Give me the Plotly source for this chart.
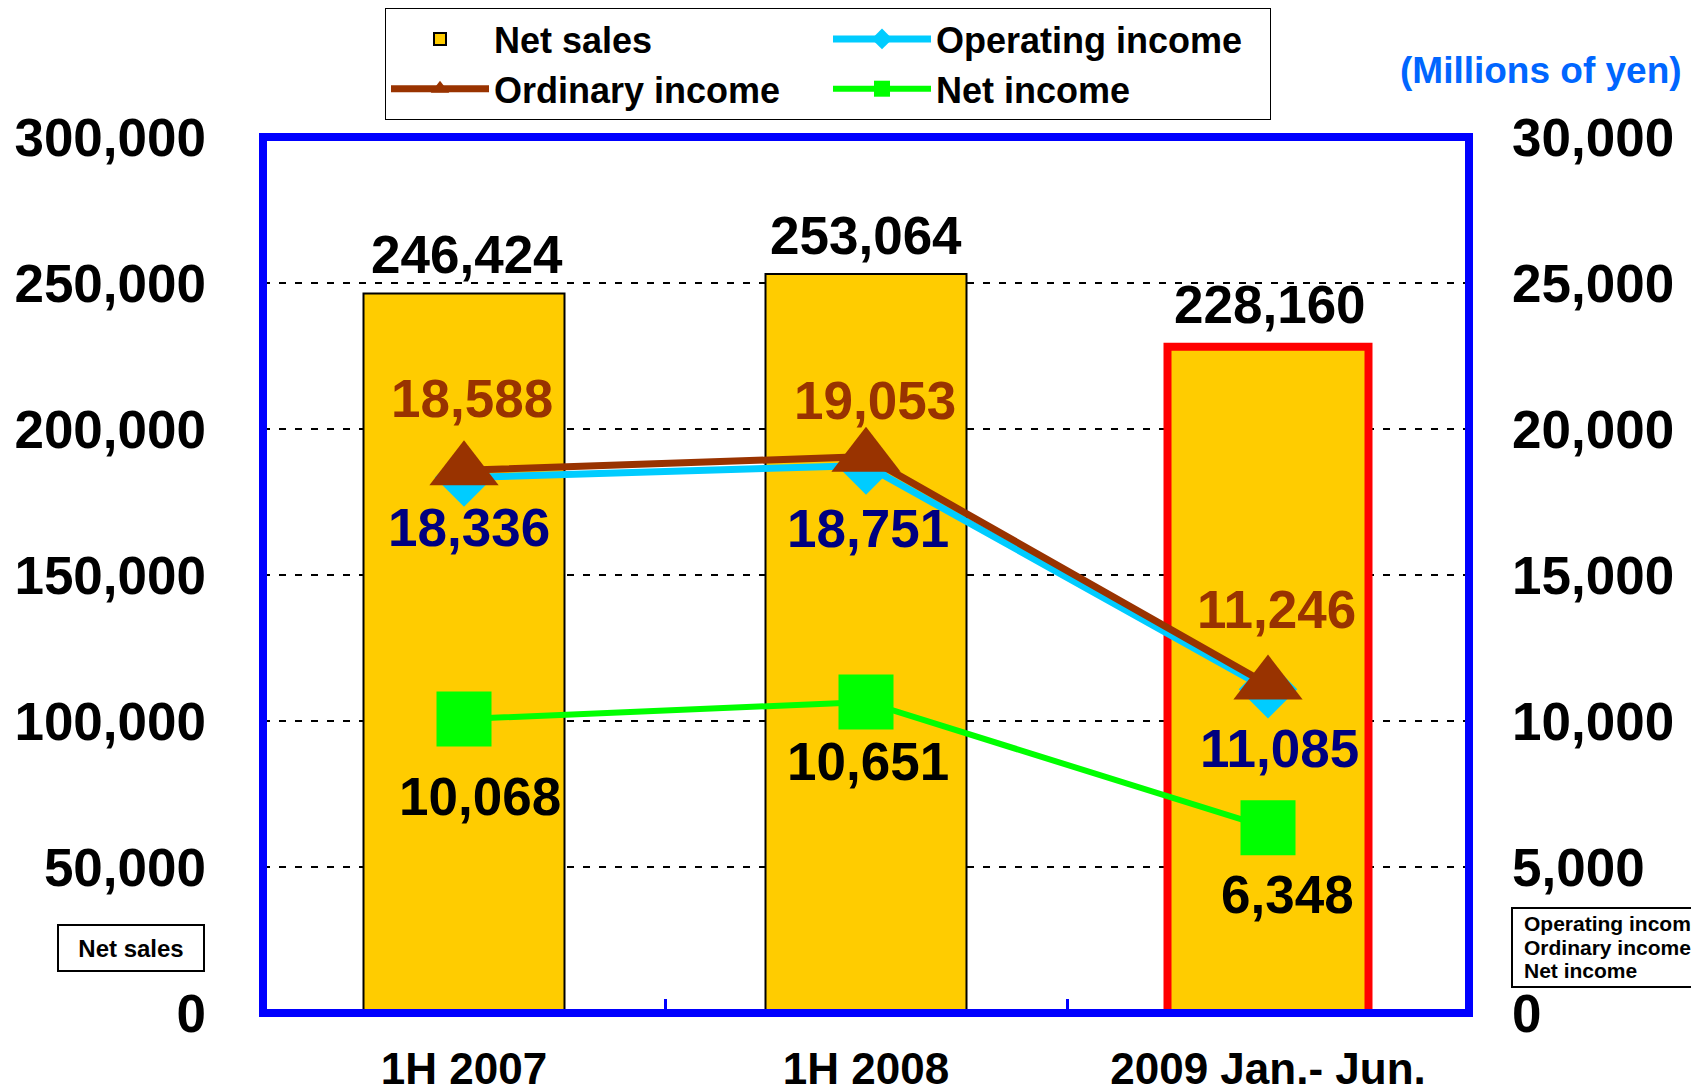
import plotly.graph_objects as go

categories = ["1H 2007", "1H 2008", "2009 Jan.- Jun."]
net_sales = [246424, 253064, 228160]
operating_income = [18336, 18751, 11085]
ordinary_income = [18588, 19053, 11246]
net_income = [10068, 10651, 6348]

left_ticks = [0, 50000, 100000, 150000, 200000, 250000, 300000]
right_ticks = [0, 5000, 10000, 15000, 20000, 25000, 30000]

FONT = "Liberation Sans, Arial, sans-serif"

# label offsets (pixels)
sales_dx, sales_dy = [3, 0, 2], [39, 39, 42]
ord_dx, ord_dy = [8, 9, 8], [72, 56, 75]
op_dx, op_dy = [5, 2, 11], [-50, -63, -59]
net_dx, net_dy = [16, 2, 19], [-77, -60, -67]

fig = go.Figure()
fig.add_trace(go.Bar(
    x=categories, y=net_sales, name="Net sales", width=0.5,
    marker=dict(color="#FFCC00", line=dict(color=["black", "black", "#FF0000"], width=[2, 2, 8])),
    yaxis="y",
))
fig.add_trace(go.Scatter(
    x=categories, y=operating_income, name="Operating income", mode="lines+markers",
    line=dict(color="#00CCFF", width=7),
    marker=dict(symbol="diamond", size=45, color="#00CCFF"),
    yaxis="y2",
))
fig.add_trace(go.Scatter(
    x=categories, y=ordinary_income, name="Ordinary income", mode="lines+markers",
    line=dict(color="#993300", width=7),
    marker=dict(symbol="triangle-up", size=60, color="#993300"),
    yaxis="y2",
))
fig.add_trace(go.Scatter(
    x=categories, y=net_income, name="Net income", mode="lines+markers",
    line=dict(color="#00FF00", width=6),
    marker=dict(symbol="square", size=55, color="#00FF00"),
    yaxis="y2",
))

ann = []
def lab(x, y, yref, text, color, size, dx, dy):
    ann.append(dict(x=x, y=y, xref="x", yref=yref, text=text, showarrow=False,
                    xshift=dx, yshift=dy, xanchor="center", yanchor="middle",
                    font=dict(family=FONT, size=size, color=color, weight="bold")))

for i, c in enumerate(categories):
    lab(c, net_sales[i], "y", f"{net_sales[i]:,}", "black", 53, sales_dx[i], sales_dy[i])
    lab(c, ordinary_income[i], "y2", f"{ordinary_income[i]:,}", "#993300", 53, ord_dx[i], ord_dy[i])
    lab(c, operating_income[i], "y2", f"{operating_income[i]:,}", "#000080", 53, op_dx[i], op_dy[i])
    lab(c, net_income[i], "y2", f"{net_income[i]:,}", "black", 53, net_dx[i], net_dy[i])

L, R, T, B = 263, 222, 137, 72
W, H = 1691, 1085
pw, ph = W - L - R, H - T - B
def px(xp):
    return (xp - L) / pw
def py(yp):
    return (H - B - yp) / ph

ann.append(dict(x=px(1684), y=py(70), xref="paper", yref="paper", text="(Millions of yen)",
                showarrow=False, xanchor="right", yanchor="middle",
                font=dict(family=FONT, size=37, color="#0066FF", weight="bold")))
ann.append(dict(x=px(131), y=py(948), xref="paper", yref="paper", text="Net sales",
                showarrow=False, xanchor="center", yanchor="middle", width=144, height=44,
                bordercolor="black", borderwidth=2, borderpad=0, bgcolor="white",
                font=dict(family=FONT, size=24, color="black", weight="bold")))
for t, yy in zip(["Operating income", "Ordinary income", "Net income"], [923, 947, 970]):
    ann.append(dict(x=px(1522), y=py(yy), xref="paper", yref="paper", text=t,
                    showarrow=False, xanchor="left", yanchor="middle",
                    font=dict(family=FONT, size=21, color="black", weight="bold")))

shapes = [
    dict(type="rect", xref="paper", yref="paper", x0=0, x1=1, y0=0, y1=1,
         line=dict(color="#0000FF", width=8), layer="above"),
    dict(type="rect", xref="paper", yref="paper", x0=px(1512), x1=px(1700), y0=py(987), y1=py(908),
         line=dict(color="black", width=2), layer="above"),
]

fig.update_layout(
    width=W, height=H,
    margin=dict(l=L, r=R, t=T, b=B, autoexpand=False),
    paper_bgcolor="white", plot_bgcolor="white",
    font=dict(family=FONT, color="black"),
    showlegend=True,
    legend=dict(orientation="h", x=px(385), y=py(8), xanchor="left", yanchor="top",
                bordercolor="black", borderwidth=1, bgcolor="white",
                font=dict(family=FONT, size=36, color="black", weight="bold"),
                itemwidth=98, entrywidth=329, traceorder="normal",
                tracegroupgap=0),
    xaxis=dict(type="category", range=[-0.5, 2.5], showgrid=False, zeroline=False,
               showline=False, ticks="inside", tickson="boundaries", ticklen=14,
               tickwidth=3, tickcolor="#0000FF", ticklabelstandoff=26,
               tickfont=dict(family=FONT, size=44, color="black", weight="bold")),
    yaxis=dict(range=[0, 300000], tickvals=left_ticks, tickformat=",", showgrid=True,
               gridcolor="black", gridwidth=2, griddash="7px,9px", zeroline=False,
               showline=False, ticks="", ticklabelstandoff=56,
               tickfont=dict(family=FONT, size=53, color="black", weight="bold")),
    yaxis2=dict(range=[0, 30000], tickvals=right_ticks, tickformat=",", overlaying="y",
                side="right", showgrid=False, zeroline=False, showline=False, ticks="",
                ticklabelstandoff=42,
                tickfont=dict(family=FONT, size=53, color="black", weight="bold")),
    annotations=ann,
    shapes=shapes,
)

fig.write_html("out.html", config={"displayModeBar": False},
               post_script="document.body.style.margin='0px';")
